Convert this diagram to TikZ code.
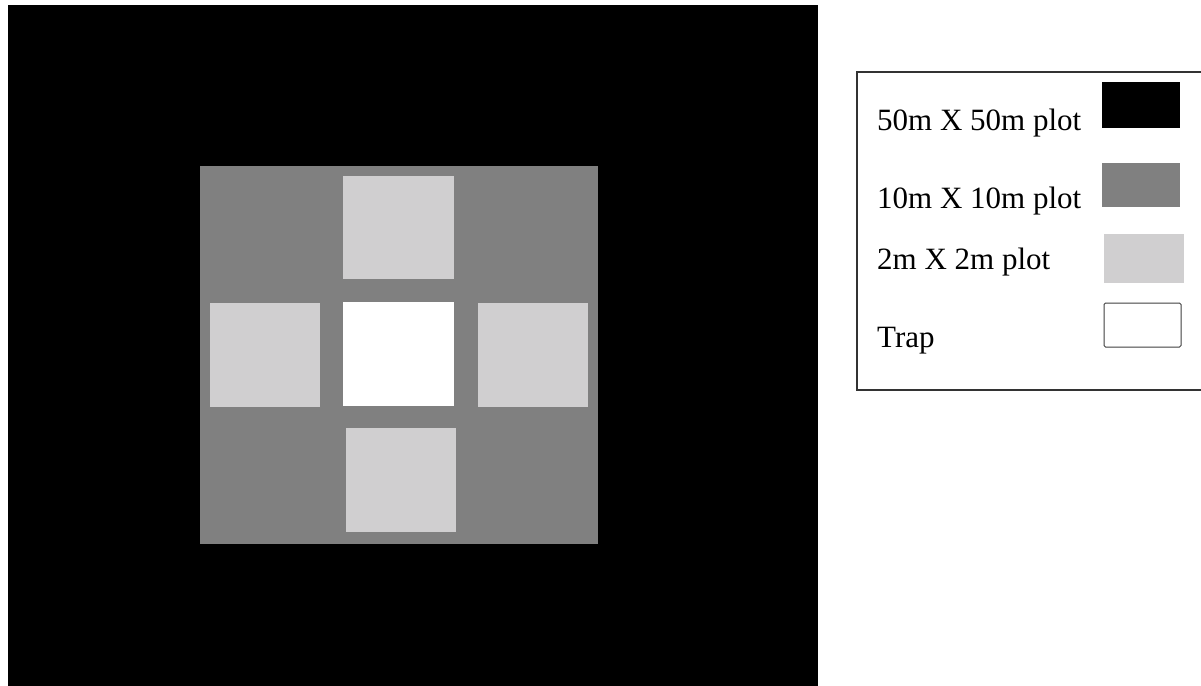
\documentclass[tikz,border=0pt]{standalone}
\usepackage{fontspec}
\setmainfont{Liberation Serif}
\definecolor{midgray}{RGB}{128,128,128}
\definecolor{lightgray2}{RGB}{208,207,208}
\tikzset{
  legtext/.style={anchor=base west, inner sep=0pt, font=\fontsize{31}{36}\selectfont},
  plotblack/.style={fill=black},
  plotgray/.style={fill=midgray},
  plotlight/.style={fill=lightgray2},
}
\begin{document}
\begin{tikzpicture}[x=1pt,y=-1pt]
\useasboundingbox (0,0) rectangle (1201,685);
\fill[white] (0,0) rectangle (1201,685);
% main plot
\fill[plotblack] (8,5) rectangle (818,690);
\fill[plotgray] (200,166) rectangle (598,544);
\fill[plotlight] (343,176) rectangle (454,279);
\fill[plotlight] (210,303) rectangle (320,407);
\fill[white] (343,302) rectangle (454,406);
\fill[plotlight] (478,303) rectangle (588,407);
\fill[plotlight] (346,428) rectangle (456,532);
% legend
\draw[line width=1.3pt, draw=black!80] (857,72) rectangle (1210,390);
\fill[plotblack] (1102,82) rectangle (1180,128);
\fill[plotgray] (1102,163) rectangle (1180,207);
\fill[plotlight] (1104,234) rectangle (1184,283);
\draw[line width=1pt, draw=black!75, fill=white, rounded corners=1.5pt] (1104,303) rectangle (1181,347);
\node[legtext] (l1) at (877,130) {50m X 50m plot};
\node[legtext] (l2) at (877,208) {10m X 10m plot};
\node[legtext] (l3) at (877,269) {2m X 2m plot};
\node[legtext] (l4) at (877,347) {Trap};
\end{tikzpicture}
\end{document}
